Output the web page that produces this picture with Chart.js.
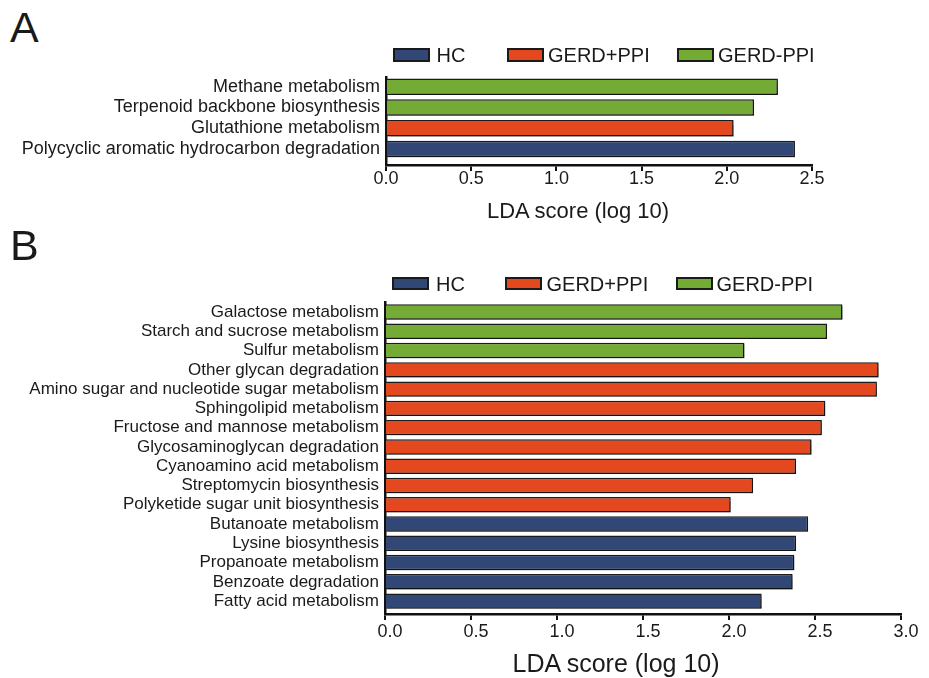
<!DOCTYPE html>
<html>
<head>
<meta charset="utf-8">
<script src="https://cdn.jsdelivr.net/npm/chart.js@4.4.1/dist/chart.umd.min.js"></script>
<style>
html, body { margin: 0; padding: 0; background: #fff; }
#wrap { position: relative; width: 929px; height: 678px; overflow: hidden;
        font-family: 'Liberation Sans', Arial, sans-serif; color: #1a1a1a; }
canvas { position: absolute; left: 0; }
.txt { position: absolute; white-space: nowrap; line-height: 1; }
.box { position: absolute; box-sizing: border-box; border: 2px solid #1a1a1a; }
</style>
</head>
<body>
<div id="wrap">
  <canvas id="chartA" width="929" height="150" style="top:60px"></canvas>
  <canvas id="chartB" width="929" height="448" style="top:230px"></canvas>
</div>
<script>
// groups + colours
var groupNames = ['HC', 'GERD+PPI', 'GERD-PPI'];
var groupColors = ['#314877', '#e4481f', '#74ab35'];

// panel A
var labelsA = ['Methane metabolism', 'Terpenoid backbone biosynthesis', 'Glutathione metabolism',
	'Polycyclic aromatic hydrocarbon degradation'];
var scoresA = [2.30, 2.16, 2.04, 2.40];
var groupsA = ['GERD-PPI', 'GERD-PPI', 'GERD+PPI', 'HC'];
var ticksA = [0, 0.5, 1.0, 1.5, 2.0, 2.5];

// panel B
var labelsB = ['Galactose metabolism', 'Starch and sucrose metabolism', 'Sulfur metabolism',
	'Other glycan degradation', 'Amino sugar and nucleotide sugar metabolism', 'Sphingolipid metabolism',
	'Fructose and mannose metabolism', 'Glycosaminoglycan degradation', 'Cyanoamino acid metabolism',
	'Streptomycin biosynthesis', 'Polyketide sugar unit biosynthesis', 'Butanoate metabolism',
	'Lysine biosynthesis', 'Propanoate metabolism', 'Benzoate degradation', 'Fatty acid metabolism'];
var scoresB = [2.66, 2.57, 2.09, 2.87, 2.86, 2.56, 2.54, 2.48, 2.39, 2.14, 2.01, 2.46, 2.39, 2.38, 2.37, 2.19];
var groupsB = ['GERD-PPI', 'GERD-PPI', 'GERD-PPI', 'GERD+PPI', 'GERD+PPI', 'GERD+PPI', 'GERD+PPI', 'GERD+PPI',
	'GERD+PPI', 'GERD+PPI', 'GERD+PPI', 'HC', 'HC', 'HC', 'HC', 'HC'];
var ticksB = [0, 0.5, 1.0, 1.5, 2.0, 2.5, 3.0];

var axisTitle = 'LDA score (log 10)';
var fontFam = "'Liberation Sans', Arial, sans-serif";

// light drop shadow behind the bars
var shadowPlugin = {
	id: 'barShadow',
	beforeDatasetsDraw: function(chart) {
		var c = chart.ctx;
		c.save();
		c.shadowColor = 'rgba(0,0,0,0.3)';
		c.shadowOffsetX = 1.5;
		c.shadowOffsetY = 1.5;
		c.shadowBlur = 1;
	},
	afterDatasetsDraw: function(chart) {
		chart.ctx.restore();
	}
};

function makeChart(id, labels, scores, groups, ticks, o) {
	return new Chart(document.getElementById(id), {
		type: 'bar',
		data: {
			labels: labels,
			datasets: [{
				data: scores.map(function(v, i) { return {x: v, y: i}; }),
				backgroundColor: groups.map(function(g) { return groupColors[groupNames.indexOf(g)]; }),
				borderColor: '#1b1b1b',
				borderWidth: 1.5,
				barPercentage: 0.8,
				categoryPercentage: 1
			}]
		},
		options: {
			indexAxis: 'y',
			responsive: false,
			animation: false,
			layout: {padding: {top: o.top, right: o.right, bottom: o.bottom, left: 0}},
			plugins: {legend: {display: false}, tooltip: {enabled: false}},
			scales: {
				x: {
					type: 'linear', min: 0, max: ticks[ticks.length - 1], bounds: 'data',
					afterBuildTicks: function(s) { s.ticks = ticks.map(function(v) { return {value: v}; }); },
					afterFit: function(s) { s.height = o.xh; },
					grid: {drawOnChartArea: false, drawTicks: true, tickLength: 6, color: '#111', lineWidth: 2},
					border: {color: '#111', width: 2.5},
					ticks: {
						color: '#1a1a1a', padding: o.tickPad, labelOffset: o.labelOffset, maxRotation: 0,
						font: {family: fontFam, size: 18, lineHeight: 1},
						callback: function(v) { return v.toFixed(1); }
					}
				},
				y: {
					type: 'linear', reverse: true, min: o.ymin, max: o.ymax, bounds: 'data', offset: false,
					afterBuildTicks: function(s) { s.ticks = labels.map(function(l, i) { return {value: i}; }); },
					afterFit: function(s) { s.width = o.left; },
					grid: {display: false, drawTicks: false},
					border: {color: '#111', width: 2.5},
					ticks: {
						autoSkip: false, padding: 6, color: '#1a1a1a',
						font: {family: fontFam, size: o.labelSize},
						callback: function(v) { return labels[v]; }
					}
				}
			}
		},
		plugins: [shadowPlugin]
	});
}

makeChart('chartA', labelsA, scoresA, groupsA, ticksA,
	{top: 16.7, right: 117, bottom: 10, xh: 35, left: 386, ymin: -0.48, ymax: 3.77, tickPad: -1, labelOffset: 0, labelSize: 18});
makeChart('chartB', labelsB, scoresB, groupsB, ticksB,
	{top: 72, right: 28, bottom: 24, xh: 40, left: 385, ymin: -0.52, ymax: 15.67, tickPad: 3, labelOffset: 5, labelSize: 17});

// texts outside the plots
var wrap = document.getElementById('wrap');
function addText(str, x, y, size, anchor) {
	var d = document.createElement('div');
	d.className = 'txt';
	d.textContent = str;
	d.style.fontSize = size + 'px';
	d.style.left = x + 'px';
	d.style.top = y + 'px';
	if (anchor == 'center') d.style.transform = 'translate(-50%,-50%)';
	if (anchor == 'left') d.style.transform = 'translate(0,-50%)';
	wrap.appendChild(d);
}
function addLegend(cy, boxX, textX, boxH) {
	for (var i = 0; i < groupNames.length; i++) {
		var b = document.createElement('div');
		b.className = 'box';
		b.style.left = boxX[i] + 'px';
		b.style.top = (cy - boxH / 2) + 'px';
		b.style.width = '37px';
		b.style.height = boxH + 'px';
		b.style.background = groupColors[i];
		wrap.appendChild(b);
		addText(groupNames[i], textX[i], cy, 20, 'left');
	}
}

addText('A', 10, 6, 43);
addText('B', 10, 224, 43);
addLegend(54.5, [392.5, 506.5, 676.5], [436.5, 548, 718], 14);
addLegend(283.5, [391.5, 505, 675.5], [436, 546.5, 716.5], 13.5);
addText(axisTitle, 578, 210.5, 22, 'center');
addText(axisTitle, 616, 663, 25, 'center');
</script>
</body>
</html>
